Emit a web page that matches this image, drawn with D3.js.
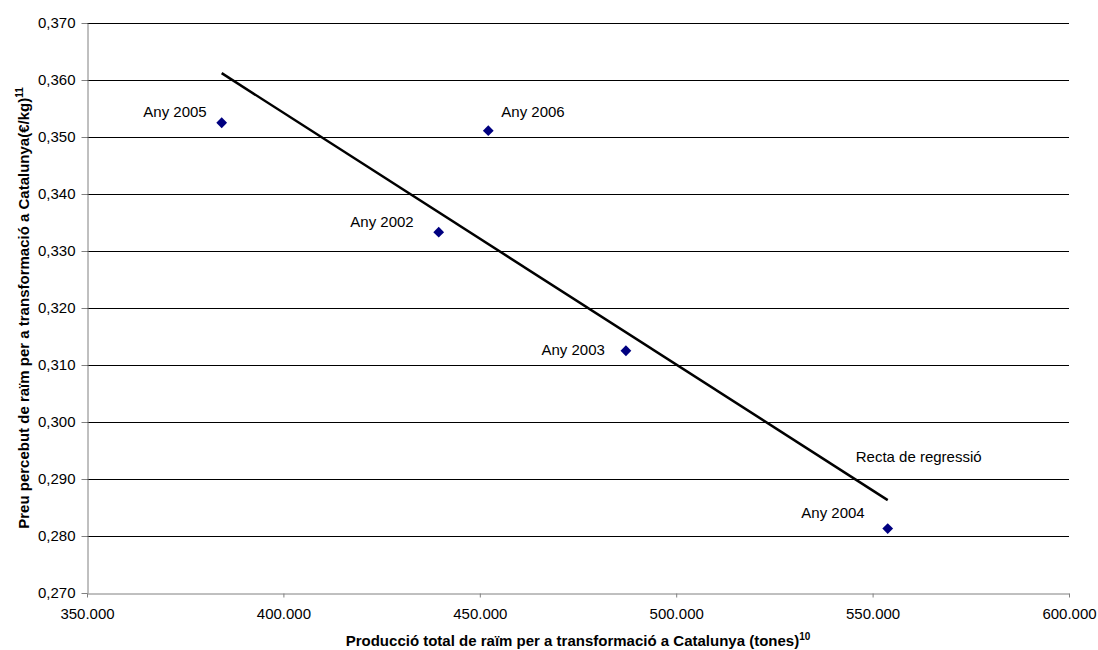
<!DOCTYPE html>
<html>
<head>
<meta charset="utf-8">
<script src="https://cdn.jsdelivr.net/npm/d3@7"></script>
<style>
  body { margin: 0; background: #fff; }
  text { font-family: "Liberation Sans", Arial, sans-serif; }
</style>
</head>
<body>
<div id="chart-area"></div>
<script>
// data
var years      = ["Any 2002", "Any 2003", "Any 2004", "Any 2005", "Any 2006"];
var production = [439540, 487200, 553850, 384290, 452160];
var price      = [0.3333, 0.3125, 0.2813, 0.3525, 0.3511];

// regression line end points
var regX = [384290, 553850];
var regY = [0.3612, 0.2863];
var regLabel = "Recta de regressió";

var xTicks = [350000, 400000, 450000, 500000, 550000, 600000];
var yTicks = [0.270, 0.280, 0.290, 0.300, 0.310, 0.320, 0.330, 0.340, 0.350, 0.360, 0.370];

// label offsets from each point (px): dx, dy, anchor
var labelPos = [
    [-25, -5, "end"],
    [-21, 4, "end"],
    [-23, -11, "end"],
    [-15, -6, "end"],
    [13, -14, "start"]
];

var margin = { top: 23, bottom: 57, left: 87, right: 29 };
var width  = 1098 - margin.left - margin.right;
var height = 650 - margin.top - margin.bottom;

var svg = d3.select("#chart-area")
    .append("svg")
        .attr("width", 1098)
        .attr("height", 650);

var g = svg.append("g")
    .attr("transform", "translate(" + margin.left + ", " + margin.top + ")");

var x = d3.scaleLinear()
    .domain([350000, 600000])
    .range([0, width]);

var y = d3.scaleLinear()
    .domain([0.27, 0.37])
    .range([height, 0]);

var fmtX = function(d) { return d3.format(",")(d).replace(/,/g, "."); };
var fmtY = function(d) { return d3.format(".3f")(d).replace(".", ","); };

// gridlines
g.append("g")
    .selectAll("line")
    .data(yTicks.slice(1))
    .enter()
    .append("line")
        .attr("x1", 0)
        .attr("x2", width)
        .attr("y1", function(d) { return Math.round(y(d)) + 0.5; })
        .attr("y2", function(d) { return Math.round(y(d)) + 0.5; })
        .attr("stroke", "#000")
        .attr("stroke-width", 1);

var xAxisCall = d3.axisBottom(x)
    .tickValues(xTicks)
    .tickSize(4)
    .tickSizeOuter(0)
    .tickFormat(fmtX);

var xAxis = g.append("g")
    .attr("class", "x-axis")
    .attr("transform", "translate(0, " + (height + 0.5) + ")")
    .call(xAxisCall);
xAxis.selectAll("text")
    .attr("font-size", "15px")
    .attr("font-family", "Liberation Sans, Arial, sans-serif")
    .attr("fill", "#000")
    .attr("y", 15);

var yAxisCall = d3.axisLeft(y)
    .tickValues(yTicks)
    .tickSize(6)
    .tickSizeOuter(0)
    .tickFormat(fmtY);

var yAxis = g.append("g")
    .attr("class", "y-axis")
    .attr("transform", "translate(0.5, 0)")
    .call(yAxisCall);
yAxis.selectAll("text")
    .attr("font-size", "15px")
    .attr("font-family", "Liberation Sans, Arial, sans-serif")
    .attr("fill", "#000")
    .attr("x", -12);

svg.selectAll(".domain, .tick line").attr("stroke", "#808080");

// axis titles
var xLabel = g.append("text")
    .attr("x", width / 2)
    .attr("y", height + 53)
    .attr("text-anchor", "middle")
    .attr("font-size", "15px")
    .attr("font-weight", "bold");
xLabel.append("tspan").text("Producció total de raïm per a transformació a Catalunya (tones)");
xLabel.append("tspan").attr("dy", -6).attr("font-size", "10px").text("10");

var yLabel = g.append("text")
    .attr("x", -(height / 2))
    .attr("y", -58)
    .attr("transform", "rotate(-90)")
    .attr("text-anchor", "middle")
    .attr("font-size", "15px")
    .attr("font-weight", "bold");
yLabel.append("tspan").text("Preu percebut de raïm per a transformació a Catalunya(€/kg)");
yLabel.append("tspan").attr("dy", -6).attr("font-size", "10px").text("11");

// regression line
g.append("line")
    .attr("x1", x(regX[0]))
    .attr("y1", y(regY[0]))
    .attr("x2", x(regX[1]))
    .attr("y2", y(regY[1]))
    .attr("stroke", "#000")
    .attr("stroke-width", 2.5);

g.append("text")
    .attr("x", x(regX[1]) - 32)
    .attr("y", y(regY[1]) - 38)
    .attr("font-size", "15px")
    .text(regLabel);

// points
g.selectAll("path.pt")
    .data(years)
    .enter()
    .append("path")
        .attr("class", "pt")
        .attr("d", d3.symbol().type(d3.symbolSquare).size(58))
        .attr("transform", function(d, i) {
            return "translate(" + x(production[i]) + "," + y(price[i]) + ") rotate(45)";
        })
        .attr("fill", "#000080");

g.selectAll("text.lbl")
    .data(years)
    .enter()
    .append("text")
        .attr("class", "lbl")
        .attr("x", function(d, i) { return x(production[i]) + labelPos[i][0]; })
        .attr("y", function(d, i) { return y(price[i]) + labelPos[i][1]; })
        .attr("text-anchor", function(d, i) { return labelPos[i][2]; })
        .attr("font-size", "15px")
        .text(function(d) { return d; });
</script>
</body>
</html>
